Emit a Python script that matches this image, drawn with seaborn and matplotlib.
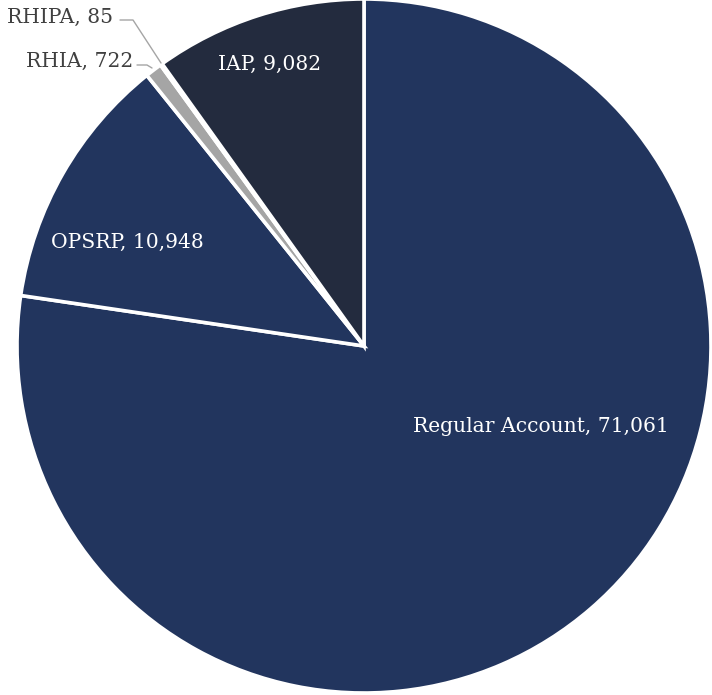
import matplotlib
matplotlib.use("Agg")
import matplotlib.pyplot as plt
import seaborn as sns

sns.set_theme(style="white")
plt.rcParams['font.family'] = ['DejaVu Serif']

categories = ["Regular Account", "OPSRP", "RHIA", "RHIPA", "IAP"]
values = [71061, 10948, 722, 85, 9082]
colors = ["#22355E", "#22355E", "#A5A5A5", "#E6E6E6", "#232B3E"]

W, H = 712, 695
fig = plt.figure(figsize=(W / 100, H / 100), dpi=100)
ax = fig.add_axes([0, 0, 1, 1])

cx, cy, r = 364, H - 346, 347
wedges, _ = ax.pie(values, colors=colors, startangle=90, counterclock=False,
                   center=(cx, cy), radius=r, frame=True,
                   wedgeprops=dict(edgecolor="white", linewidth=2.6))
ax.set_xlim(0, W)
ax.set_ylim(0, H)
ax.set_aspect("equal")
ax.axis("off")

def lab(i):
    return f"{categories[i]}, {values[i]:,}"

fs = 14.6
ax.text(541, H - 427, lab(0), color="white", fontsize=fs, ha="center", va="center")
ax.text(127, H - 242, lab(1), color="white", fontsize=fs, ha="center", va="center")
ax.text(270, H - 64, lab(4), color="white", fontsize=fs, ha="center", va="center")
ax.text(133, H - 61, lab(2), color="#404040", fontsize=fs, ha="right", va="center")
ax.text(113, H - 17, lab(3), color="#404040", fontsize=fs, ha="right", va="center")
ax.plot([137, 147, 152], [H - 65, H - 65, H - 68], color="#A5A5A5", lw=1)
ax.plot([120, 133, 161], [H - 20, H - 20, H - 63], color="#A5A5A5", lw=1)

fig.savefig("out.png", dpi=100)
